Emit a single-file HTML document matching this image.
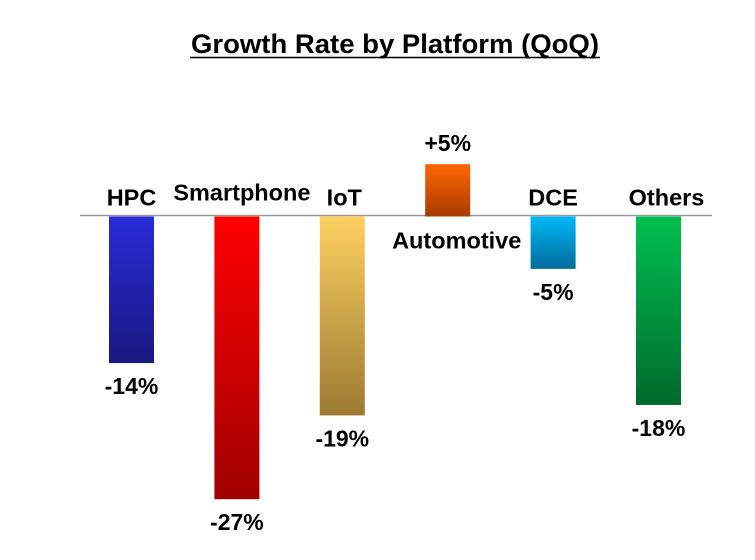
<!DOCTYPE html>
<html><head><meta charset="utf-8">
<style>
html,body{margin:0;padding:0;background:#fff;}
svg{display:block;font-family:"Liberation Sans",Arial,sans-serif;font-weight:bold;}
</style></head>
<body>
<svg id="chart" width="755" height="560" viewBox="0 0 755 560">
  <defs>
    <linearGradient id="g0" x1="0" y1="0" x2="0" y2="1"><stop offset="0" stop-color="#2a2ad8"/><stop offset="1" stop-color="#181880"/></linearGradient>
    <linearGradient id="g1" x1="0" y1="0" x2="0" y2="1"><stop offset="0" stop-color="#ff0000"/><stop offset="1" stop-color="#a00000"/></linearGradient>
    <linearGradient id="g2" x1="0" y1="0" x2="0" y2="1"><stop offset="0" stop-color="#fdd060"/><stop offset="1" stop-color="#9c7a32"/></linearGradient>
    <linearGradient id="g3" x1="0" y1="0" x2="0" y2="1"><stop offset="0" stop-color="#ff6600"/><stop offset="1" stop-color="#a83a00"/></linearGradient>
    <linearGradient id="g4" x1="0" y1="0" x2="0" y2="1"><stop offset="0" stop-color="#00b8f8"/><stop offset="1" stop-color="#006c9c"/></linearGradient>
    <linearGradient id="g5" x1="0" y1="0" x2="0" y2="1"><stop offset="0" stop-color="#00c050"/><stop offset="1" stop-color="#006a2c"/></linearGradient>
  </defs>
  <text x="395" y="53" text-anchor="middle" font-size="27" textLength="408" lengthAdjust="spacingAndGlyphs" fill="#000">Growth Rate by Platform (QoQ)</text>
  <line x1="190" y1="57.5" x2="600" y2="57.5" stroke="#000" stroke-width="1.5"/>
  <line x1="80" y1="215.5" x2="712" y2="215.5" stroke="#999" stroke-width="1.5"/>
  <g id="bars"></g>
</svg>
<script>
const categories = ["HPC","Smartphone","IoT","Automotive","DCE","Others"];
const values = [-14,-27,-19,5,-5,-18];
const valueLabels = ["-14%","-27%","-19%","+5%","-5%","-18%"];

const baseY = 216.5, pxPer = 10.47, firstCenter = 131.5, step = 105.4, barW = 45;
function xScale(i){ return firstCenter + i*step; }
function yScale(v){ return baseY - v*pxPer; }

const ns = "http://www.w3.org/2000/svg";
const g = document.getElementById('bars');
categories.forEach((c,i)=>{
  const v = values[i];
  const cx = xScale(i);
  const y0 = yScale(0), y1 = yScale(v);
  const top = Math.min(y0,y1), h = Math.abs(y1-y0);
  const r = document.createElementNS(ns,'rect');
  r.setAttribute('x', cx-barW/2); r.setAttribute('y', top);
  r.setAttribute('width', barW); r.setAttribute('height', h);
  r.setAttribute('fill', 'url(#g'+i+')');
  
  
  g.appendChild(r);

  const cl = document.createElementNS(ns,'text');
  cl.setAttribute('text-anchor','middle'); cl.setAttribute('font-size','23.5');
  cl.textContent = c;
  let lx = cx;
  if (c === "Smartphone") lx = cx + 5;
  if (c === "IoT") lx = cx + 2;
  if (c === "Automotive") lx = cx + 9;
  if (c === "Others") lx = cx + 8;
  if (v >= 0) { cl.setAttribute('x', lx); cl.setAttribute('y', y0 + 32); }
  else { cl.setAttribute('x', lx); cl.setAttribute('y', c === "Smartphone" ? y0 - 16 : y0 - 11); }
  
  
  g.appendChild(cl);

  const vl = document.createElementNS(ns,'text');
  vl.setAttribute('text-anchor','middle'); vl.setAttribute('font-size','23');
  vl.textContent = valueLabels[i];
  vl.setAttribute('x', cx);
  vl.setAttribute('y', v >= 0 ? y1 - 13 : y1 + 31);
  
  
  g.appendChild(vl);
});
</script>
</body></html>
